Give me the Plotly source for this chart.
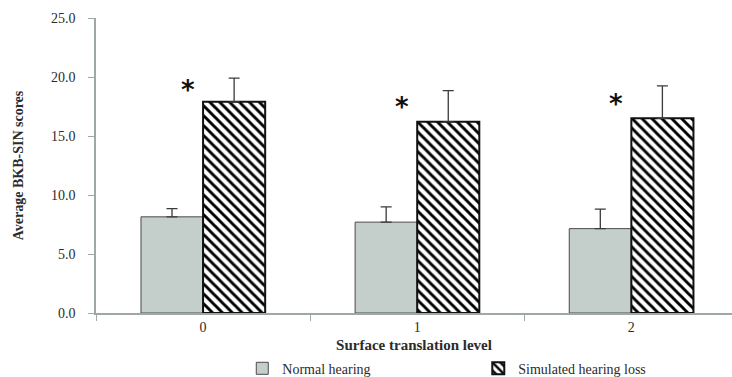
import plotly.graph_objects as go

# Surface translation levels (categories)
levels = ["0", "1", "2"]

# Mean BKB-SIN scores and upper error (SD) per group
normal_mean = [8.15, 7.7, 7.15]
normal_err = [0.7, 1.3, 1.65]
simulated_mean = [17.9, 16.2, 16.5]
simulated_err = [2.0, 2.65, 2.75]

# Significance markers drawn above each pair
star_y = [19.3, 17.9, 18.1]

# Y axis ticks
y_ticks = [0, 5, 10, 15, 20, 25]
y_tick_labels = ["0.0", "5.0", "10.0", "15.0", "20.0", "25.0"]

FONT = "Liberation Serif"
TEXT = "#2b2b2b"
AXIS = "#9ea8a8"

fig = go.Figure()

fig.add_trace(go.Bar(
    x=levels, y=normal_mean, name="Normal hearing",
    marker=dict(color="#c4cfcb", line=dict(color="#4a4a4a", width=1)),
    error_y=dict(type="data", symmetric=False, array=normal_err,
                 arrayminus=[0] * len(levels), color="#3a3a3a",
                 thickness=1.3, width=5.5),
))

fig.add_trace(go.Bar(
    x=levels, y=simulated_mean, name="Simulated hearing loss",
    marker=dict(color="white", line=dict(color="#111111", width=2),
                pattern=dict(shape="\\", fgcolor="#000000", bgcolor="white",
                             fgopacity=1, size=7, solidity=0.42)),
    error_y=dict(type="data", symmetric=False, array=simulated_err,
                 arrayminus=[0] * len(levels), color="#3a3a3a",
                 thickness=1.3, width=5.5),
))

for lv, sy in zip(levels, star_y):
    fig.add_annotation(x=lv, y=sy, text="<b>*</b>", showarrow=False, xshift=-15,
                       yanchor="middle", yshift=-5,
                       font=dict(family="DejaVu Sans", size=26, color="#111111"))

fig.update_layout(
    width=732, height=377,
    margin=dict(l=96, r=0, t=18, b=64, autoexpand=False),
    paper_bgcolor="white", plot_bgcolor="white",
    barmode="group", bargap=0.42, bargroupgap=0,
    font=dict(family=FONT, size=14, color=TEXT),
    showlegend=True,
    legend=dict(orientation="h", x=0.23, xanchor="left",
                yref="container", y=0.022, yanchor="middle",
                font=dict(family=FONT, size=14, color=TEXT),
                entrywidth=191, entrywidthmode="pixels",
                itemclick=False, itemdoubleclick=False),
)

fig.update_xaxes(
    type="category", range=[-0.5, 2.47],
    showline=True, linecolor=AXIS, linewidth=1.5,
    ticks="outside", tickson="boundaries", ticklen=6, tickcolor=AXIS,
    tickfont=dict(family=FONT, size=14, color=TEXT),
    showgrid=False, zeroline=False, automargin=False,
    title=dict(text="<b>Surface translation level</b>", standoff=11,
               font=dict(family=FONT, size=15, color=TEXT)),
)

fig.update_yaxes(
    range=[0, 25], tickvals=y_ticks, ticktext=y_tick_labels,
    showline=True, linecolor=AXIS, linewidth=1.5,
    ticks="outside", ticklen=6, tickcolor=AXIS, ticklabelstandoff=10,
    tickfont=dict(family=FONT, size=14, color=TEXT),
    showgrid=False, zeroline=False, automargin=False,
    title=dict(text="<b>Average BKB-SIN scores</b>", standoff=24,
               font=dict(family=FONT, size=14, color=TEXT)),
)

fig.write_html("out.html")
